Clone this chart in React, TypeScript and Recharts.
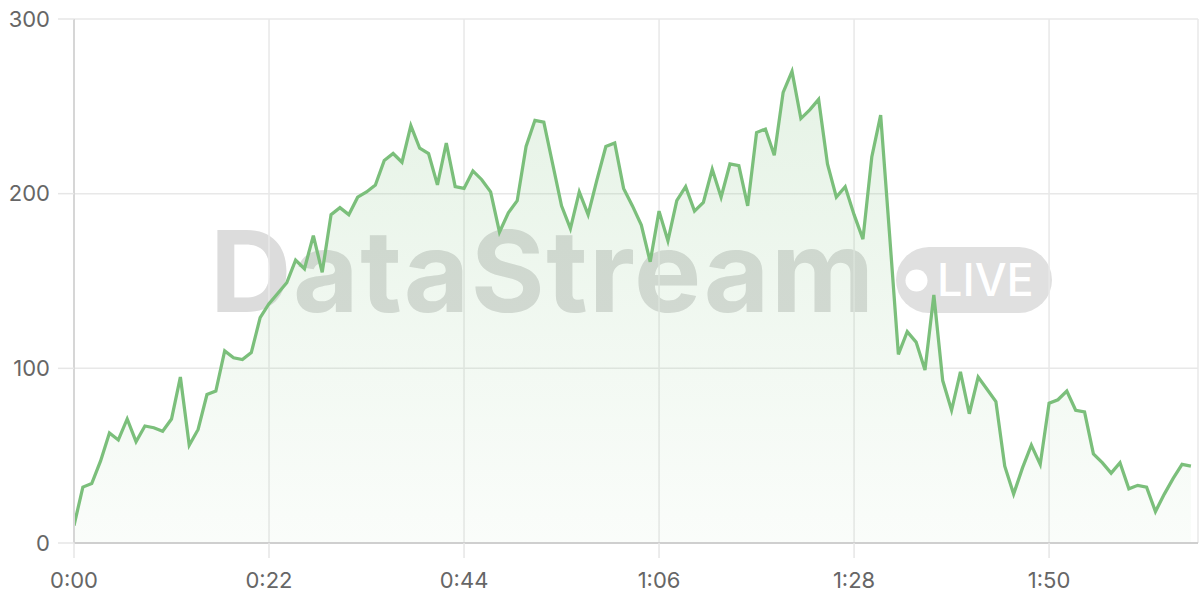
import React from 'react';
import { AreaChart, Area, XAxis, YAxis, CartesianGrid } from 'recharts';

// Sample values, one per second (0:00 .. 2:06)
const values: number[] = [
  10, 32, 34, 47, 63, 59, 71, 58, 67, 66,
  64, 71, 95, 56, 65, 85, 87, 110, 106, 105,
  109, 129, 137, 143, 149, 162, 157, 176, 155, 188,
  192, 188, 198, 201, 205, 219, 223, 218, 239, 226,
  223, 205, 229, 204, 203, 213, 208, 201, 178, 189,
  196, 227, 242, 241, 217, 193, 180, 201, 188, 208,
  227, 229, 203, 193, 182, 161, 190, 173, 196, 204,
  190, 195, 214, 198, 217, 216, 193, 235, 237, 222,
  258, 270, 243, 248, 254, 217, 198, 204, 188, 174,
  221, 245, 177, 108, 121, 115, 99, 142, 93, 76,
  98, 74, 95, 88, 81, 44, 28, 43, 56, 45,
  80, 82, 87, 76, 75, 51, 46, 40, 46, 31,
  33, 32, 18, 28, 37, 45, 44,
];

const SAMPLE_INTERVAL_S = 1;
const xTicks: number[] = [0, 22, 44, 66, 88, 110];
const yTicks: number[] = [0, 100, 200, 300];
const watermarkTitle = 'DataStream';
const watermarkBadge = 'LIVE';

const data = values.map((v, i) => ({ t: i * SAMPLE_INTERVAL_S, v }));

const fmtTime = (s: number) => {
  const m = Math.floor(s / 60);
  const sec = Math.round(s % 60);
  return `${m}:${sec < 10 ? '0' : ''}${sec}`;
};

const FONT = 'Inter, "Noto Sans", sans-serif';

export default function App() {
  return (
    <div style={{ position: 'absolute', left: 0, top: 0, width: 1200, height: 600, background: '#fff' }}>
      <svg width={1200} height={600} style={{ position: 'absolute', left: 0, top: 0 }}>
        <text
          x={210}
          y={312}
          fontFamily={FONT}
          fontWeight={700}
          fontSize={113}
          fill="#dcdcdc"
          letterSpacing={1.5}
        >
          {watermarkTitle}
        </text>
        <rect x={896} y={247} width={156} height={66} rx={33} ry={33} fill="#e0e0e0" />
        <circle cx={916.5} cy={280.5} r={11} fill="#ffffff" />
        <text x={937} y={296} fontFamily={FONT} fontWeight={500} fontSize={45} fill="#ffffff">
          {watermarkBadge}
        </text>
      </svg>
      <AreaChart
        width={1200}
        height={600}
        data={data}
        margin={{ top: 19, right: 2, bottom: 0, left: 0 }}
        style={{ position: 'absolute', left: 0, top: 0 }}
      >
        <defs>
          <linearGradient id="areaFill" x1="0" y1="0" x2="0" y2="1">
            <stop offset="0%" stopColor="#7bbf7b" stopOpacity={0.32} />
            <stop offset="100%" stopColor="#7bbf7b" stopOpacity={0.06} />
          </linearGradient>
        </defs>
        <CartesianGrid stroke="#e8e8e8" strokeWidth={1.5} />
        <XAxis
          dataKey="t"
          type="number"
          domain={[0, 126.8]}
          ticks={xTicks}
          tickFormatter={fmtTime}
          height={57}
          tickSize={15}
          tickMargin={14}
          axisLine={{ stroke: '#cfcfcf', strokeWidth: 2 }}
          tickLine={{ stroke: '#e6e6e6', strokeWidth: 1.5 }}
          tick={{ fill: '#666666', fontSize: 22, fontFamily: FONT }}
          allowDataOverflow
        />
        <YAxis
          type="number"
          domain={[0, 300]}
          ticks={yTicks}
          width={74}
          tickSize={16}
          tickMargin={8}
          axisLine={{ stroke: '#d6d6d6', strokeWidth: 2 }}
          tickLine={{ stroke: '#e6e6e6', strokeWidth: 1.5 }}
          tick={{ fill: '#666666', fontSize: 22, fontFamily: FONT }}
        />
        <Area
          type="linear"
          dataKey="v"
          stroke="#7bbf7b"
          strokeWidth={3.25}
          fill="url(#areaFill)"
          isAnimationActive={false}
          dot={false}
          activeDot={false}
        />
      </AreaChart>
    </div>
  );
}
